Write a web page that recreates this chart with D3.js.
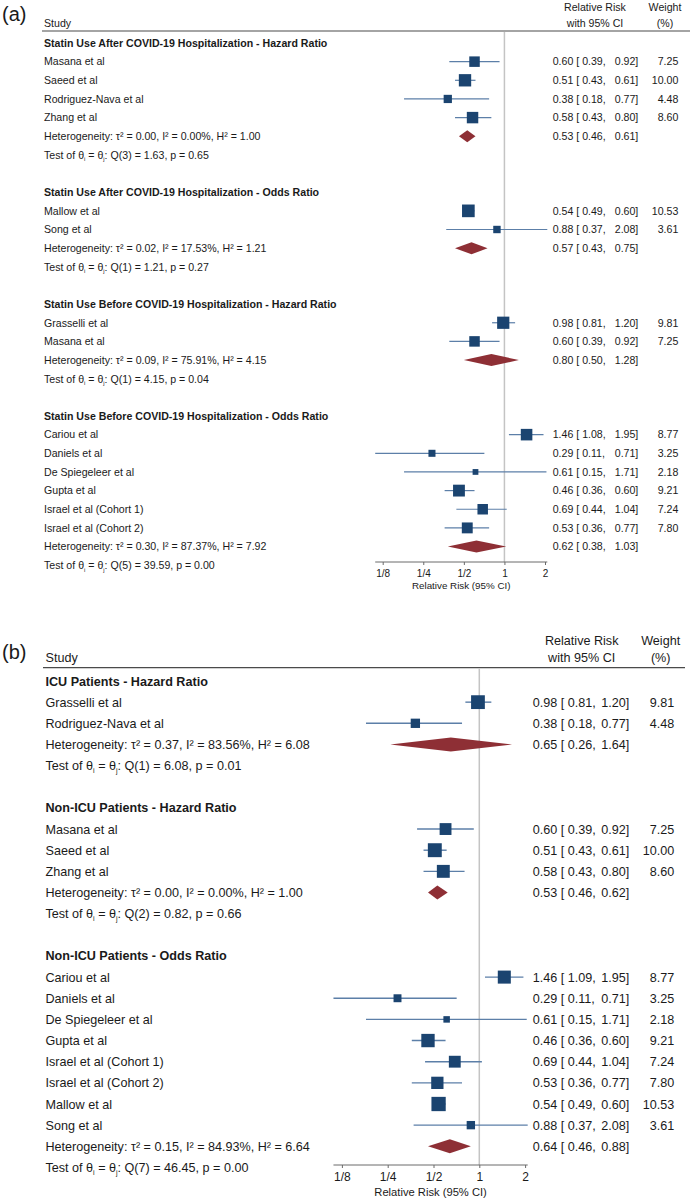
<!DOCTYPE html>
<html>
<head>
<meta charset="utf-8">
<script src="https://cdn.jsdelivr.net/npm/d3@7"></script>
<style>
  body { margin: 0; background: #fff; }
  svg { display: block; }
  text { font-family: "Liberation Sans", Arial, Helvetica, sans-serif; fill: #1a1a1a; }
</style>
</head>
<body>
<div id="chart"></div>
<script>
// ---- panel (a): statin use after / before hospitalisation ----
const aGroups = [
  "Statin Use After COVID-19 Hospitalization - Hazard Ratio",
  "Statin Use After COVID-19 Hospitalization - Odds Ratio",
  "Statin Use Before COVID-19 Hospitalization - Hazard Ratio",
  "Statin Use Before COVID-19 Hospitalization - Odds Ratio"
];
const aStudy = ["Masana et al", "Saeed et al", "Rodriguez-Nava et al", "Zhang et al",
  "Mallow et al", "Song et al",
  "Grasselli et al", "Masana et al",
  "Cariou et al", "Daniels et al", "De Spiegeleer et al", "Gupta et al",
  "Israel et al (Cohort 1)", "Israel et al (Cohort 2)"];
const aGroupOf = [0, 0, 0, 0, 1, 1, 2, 2, 3, 3, 3, 3, 3, 3];
const aRR = [0.60, 0.51, 0.38, 0.58, 0.54, 0.88, 0.98, 0.60, 1.46, 0.29, 0.61, 0.46, 0.69, 0.53];
const aLo = [0.39, 0.43, 0.18, 0.43, 0.49, 0.37, 0.81, 0.39, 1.08, 0.11, 0.15, 0.36, 0.44, 0.36];
const aHi = [0.92, 0.61, 0.77, 0.80, 0.60, 2.08, 1.20, 0.92, 1.95, 0.71, 1.71, 0.60, 1.04, 0.77];
const aWeight = [7.25, 10.00, 4.48, 8.60, 10.53, 3.61, 9.81, 7.25, 8.77, 3.25, 2.18, 9.21, 7.24, 7.80];
// whiskers as they are drawn (De Spiegeleer's line does not match its printed CI)
const aLoDrawn = [0.39, 0.43, 0.18, 0.43, 0.49, 0.37, 0.81, 0.39, 1.08, 0.11, 0.18, 0.36, 0.44, 0.36];
const aHiDrawn = [0.92, 0.61, 0.77, 0.80, 0.60, 2.08, 1.20, 0.92, 1.95, 0.71, 2.05, 0.60, 1.04, 0.77];
const aPooledRR = [0.53, 0.57, 0.80, 0.62];
const aPooledLo = [0.46, 0.43, 0.50, 0.38];
const aPooledHi = [0.61, 0.75, 1.28, 1.03];
const aTau2 = [0.00, 0.02, 0.09, 0.30];
const aI2 = [0.00, 17.53, 75.91, 87.37];
const aH2 = [1.00, 1.21, 4.15, 7.92];
const aQdf = [3, 1, 1, 5];
const aQ = [1.63, 1.21, 4.15, 39.59];
const aP = [0.65, 0.27, 0.04, 0.00];

// ---- panel (b): ICU vs non-ICU ----
const bGroups = ["ICU Patients - Hazard Ratio", "Non-ICU Patients - Hazard Ratio", "Non-ICU Patients - Odds Ratio"];
const bStudy = ["Grasselli et al", "Rodriguez-Nava et al",
  "Masana et al", "Saeed et al", "Zhang et al",
  "Cariou et al", "Daniels et al", "De Spiegeleer et al", "Gupta et al",
  "Israel et al (Cohort 1)", "Israel et al (Cohort 2)", "Mallow et al", "Song et al"];
const bGroupOf = [0, 0, 1, 1, 1, 2, 2, 2, 2, 2, 2, 2, 2];
const bRR = [0.98, 0.38, 0.60, 0.51, 0.58, 1.46, 0.29, 0.61, 0.46, 0.69, 0.53, 0.54, 0.88];
const bLo = [0.81, 0.18, 0.39, 0.43, 0.43, 1.09, 0.11, 0.15, 0.36, 0.44, 0.36, 0.49, 0.37];
const bHi = [1.20, 0.77, 0.92, 0.61, 0.80, 1.95, 0.71, 1.71, 0.60, 1.04, 0.77, 0.60, 2.08];
const bWeight = [9.81, 4.48, 7.25, 10.00, 8.60, 8.77, 3.25, 2.18, 9.21, 7.24, 7.80, 10.53, 3.61];
const bLoDrawn = [0.81, 0.18, 0.39, 0.43, 0.43, 1.09, 0.11, 0.18, 0.36, 0.44, 0.36, 0.49, 0.37];
const bHiDrawn = [1.20, 0.77, 0.92, 0.61, 0.80, 1.95, 0.71, 2.05, 0.60, 1.04, 0.77, 0.60, 2.08];
const bPooledRR = [0.65, 0.53, 0.64];
const bPooledLo = [0.26, 0.46, 0.46];
const bPooledHi = [1.64, 0.62, 0.88];
const bTau2 = [0.37, 0.00, 0.15];
const bI2 = [83.56, 0.00, 84.93];
const bH2 = [6.08, 1.00, 6.64];
const bQdf = [1, 2, 7];
const bQ = [6.08, 0.82, 46.45];
const bP = [0.01, 0.66, 0.00];

const axisTicks = [1 / 8, 1 / 4, 1 / 2, 1, 2];

const squareColor = "#1b4470";
const ciColor = "#5c7fa8";
const diamondColor = "#8e2f35";
const f2 = d3.format(".2f");

const svg = d3.select("#chart").append("svg")
  .attr("width", 691)
  .attr("height", 1200);
svg.append("rect").attr("width", 691).attr("height", 1200).attr("fill", "#fff");

function drawPanel(d, L) {
  const g = svg.append("g");
  const fs = L.fontSize;
  const base = (cy, s) => cy + 0.36 * s;
  const x = d3.scaleLog().base(2).domain([1 / 8, 2]).range(L.xRange);

  g.append("text")
    .attr("x", 2).attr("y", L.labelY)
    .style("font-size", "20px")
    .text(L.label);

  // column headers
  g.append("text").attr("x", L.textX).attr("y", base(L.headY2, fs))
    .style("font-size", fs + "px").text("Study");
  [["Relative Risk", "with 95% CI", L.rrHeadX], ["Weight", "(%)", L.wHeadX]].forEach(([l1, l2, cx]) => {
    g.append("text").attr("x", cx).attr("y", base(L.headY1, fs))
      .attr("text-anchor", "middle").style("font-size", fs + "px").text(l1);
    g.append("text").attr("x", cx).attr("y", base(L.headY2, fs))
      .attr("text-anchor", "middle").style("font-size", fs + "px").text(l2);
  });
  g.append("line")
    .attr("x1", L.ruleX[0]).attr("x2", L.ruleX[1])
    .attr("y1", L.ruleY).attr("y2", L.ruleY)
    .attr("stroke", "#4a4a4a").attr("stroke-width", 1.2);

  // layout of rows
  const rows = [];
  let r = 0;
  d.groups.forEach((title, gi) => {
    rows.push({ type: "title", gi, i: r++ });
    d.study.forEach((s, si) => {
      if (d.groupOf[si] === gi) rows.push({ type: "study", si, i: r++ });
    });
    rows.push({ type: "pooled", gi, i: r++ });
    rows.push({ type: "test", gi, i: r++ });
    r++;
  });
  const y = i => L.rowY0 + i * L.rowDy;

  // no-effect line
  g.append("line")
    .attr("x1", x(1)).attr("x2", x(1))
    .attr("y1", L.ruleY + 1).attr("y2", L.axisY)
    .attr("stroke", "#c4c4c4").attr("stroke-width", 1.5);

  rows.forEach(row => {
    const cy = y(row.i);
    const ty = base(cy, fs);
    if (row.type === "title") {
      g.append("text").attr("x", L.textX).attr("y", ty)
        .style("font-size", fs + "px").style("font-weight", "bold")
        .text(d.groups[row.gi]);
    } else if (row.type === "study") {
      const i = row.si;
      g.append("text").attr("x", L.textX).attr("y", ty)
        .style("font-size", fs + "px").text(d.study[i]);
      g.append("line")
        .attr("x1", x(d.loDrawn[i])).attr("x2", x(d.hiDrawn[i]))
        .attr("y1", cy).attr("y2", cy)
        .attr("stroke", ciColor).attr("stroke-width", L.ciWidth);
      const side = L.sq * Math.sqrt(d.weight[i]);
      g.append("rect")
        .attr("x", x(d.rr[i]) - side / 2).attr("y", cy - side / 2)
        .attr("width", side).attr("height", side)
        .attr("fill", squareColor);
      g.append("text").attr("x", L.estX).attr("y", ty)
        .style("font-size", fs + "px").style("white-space", "pre")
        .text(`${f2(d.rr[i])} [ ${f2(d.lo[i])},`);
      g.append("text").attr("x", L.hiX).attr("y", ty).attr("text-anchor", "end")
        .style("font-size", fs + "px").text(`${f2(d.hi[i])}]`);
      g.append("text").attr("x", L.wX).attr("y", ty).attr("text-anchor", "end")
        .style("font-size", fs + "px").text(f2(d.weight[i]));
    } else if (row.type === "pooled") {
      const k = row.gi;
      g.append("text").attr("x", L.textX).attr("y", ty)
        .style("font-size", fs + "px")
        .text(`Heterogeneity: τ² = ${f2(d.tau2[k])}, I² = ${f2(d.i2[k])}%, H² = ${f2(d.h2[k])}`);
      const h = L.diamondH / 2;
      const pts = [[x(d.pLo[k]), cy], [x(d.pRR[k]), cy - h], [x(d.pHi[k]), cy], [x(d.pRR[k]), cy + h]];
      g.append("path")
        .attr("d", "M" + pts.map(p => p.join(",")).join("L") + "Z")
        .attr("fill", diamondColor);
      g.append("text").attr("x", L.estX).attr("y", ty)
        .style("font-size", fs + "px").style("white-space", "pre")
        .text(`${f2(d.pRR[k])} [ ${f2(d.pLo[k])},`);
      g.append("text").attr("x", L.hiX).attr("y", ty).attr("text-anchor", "end")
        .style("font-size", fs + "px").text(`${f2(d.pHi[k])}]`);
    } else {
      const k = row.gi;
      const t = g.append("text").attr("x", L.textX).attr("y", ty).style("font-size", fs + "px");
      const sub = fs * 0.55, sh = fs * 0.25;
      t.append("tspan").text("Test of θ");
      t.append("tspan").style("font-size", sub + "px").attr("dy", sh).text("i");
      t.append("tspan").attr("dy", -sh).text(" = θ");
      t.append("tspan").style("font-size", sub + "px").attr("dy", sh).text("j");
      t.append("tspan").attr("dy", -sh).text(`: Q(${d.qdf[k]}) = ${f2(d.q[k])}, p = ${f2(d.p[k])}`);
    }
  });

  // x axis, line spans the plotted range only
  const allLo = d.loDrawn.concat(d.pLo), allHi = d.hiDrawn.concat(d.pHi);
  const ax = g.append("g")
    .attr("transform", `translate(0,${L.axisY})`)
    .call(d3.axisBottom(x)
      .tickValues(axisTicks)
      .tickFormat(v => v < 1 ? "1/" + Math.round(1 / v) : String(v))
      .tickSize(3)
      .tickPadding(L.tickPad));
  ax.select(".domain").remove();
  ax.append("line")
    .attr("x1", x(d3.min(allLo))).attr("x2", x(d3.max(allHi)))
    .attr("stroke", "#6a6a6a").attr("stroke-width", 1);
  ax.selectAll(".tick line").attr("stroke", "#6a6a6a");
  ax.selectAll(".tick text")
    .style("font-family", "\"Liberation Sans\", Arial, sans-serif")
    .style("font-size", L.tickFont + "px")
    .attr("fill", "#1a1a1a");
  g.append("text")
    .attr("x", (x(d3.min(allLo)) + x(d3.max(allHi))) / 2)
    .attr("y", base(L.axisTitleY, L.titleFont))
    .attr("text-anchor", "middle")
    .style("font-size", L.titleFont + "px")
    .text("Relative Risk (95% CI)");
}

drawPanel({
  groups: aGroups, study: aStudy, groupOf: aGroupOf,
  rr: aRR, lo: aLo, hi: aHi, weight: aWeight, loDrawn: aLoDrawn, hiDrawn: aHiDrawn,
  pRR: aPooledRR, pLo: aPooledLo, pHi: aPooledHi,
  tau2: aTau2, i2: aI2, h2: aH2, qdf: aQdf, q: aQ, p: aP
}, {
  label: "(a)", labelY: 21,
  fontSize: 10.6, textX: 44,
  headY1: 7.5, headY2: 23, rrHeadX: 595, wHeadX: 665,
  ruleY: 31, ruleX: [42, 690],
  rowY0: 43, rowDy: 18.65,
  xRange: [382.7, 545],
  estX: 552.7, hiX: 638.3, wX: 678.3,
  sq: 3.9, diamondH: 12, ciWidth: 1.2,
  axisY: 562, tickPad: 4.8, tickFont: 10, axisTitleY: 585, titleFont: 9.8
});

drawPanel({
  groups: bGroups, study: bStudy, groupOf: bGroupOf,
  rr: bRR, lo: bLo, hi: bHi, weight: bWeight, loDrawn: bLoDrawn, hiDrawn: bHiDrawn,
  pRR: bPooledRR, pLo: bPooledLo, pHi: bPooledHi,
  tau2: bTau2, i2: bI2, h2: bH2, qdf: bQdf, q: bQ, p: bP
}, {
  label: "(b)", labelY: 659,
  fontSize: 12.6, textX: 45.5,
  headY1: 640.7, headY2: 657.5, rrHeadX: 581.7, wHeadX: 660.7,
  ruleY: 667.7, ruleX: [43, 685],
  rowY0: 681, rowDy: 21.15,
  xRange: [341.9, 525.1],
  estX: 532.7, hiX: 629.3, wX: 674.3,
  sq: 4.4, diamondH: 14, ciWidth: 1.4,
  axisY: 1165, tickPad: 4.5, tickFont: 12, axisTitleY: 1191.7, titleFont: 11.2
});
</script>
</body>
</html>
